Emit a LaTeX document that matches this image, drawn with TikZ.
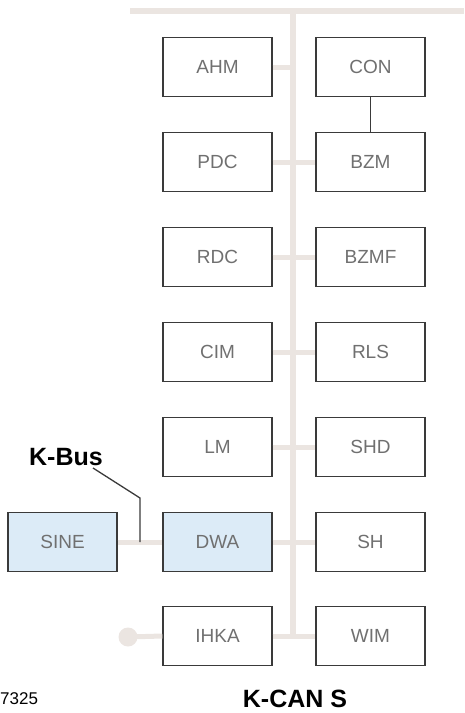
\documentclass[tikz,border=0pt]{standalone}
\usepackage{fontspec}
\setmainfont{Liberation Sans}
\definecolor{busline}{HTML}{EBE5E1}
\definecolor{ecufill}{HTML}{DCEBF7}
\definecolor{ecuedge}{HTML}{3A3A3A}
\definecolor{ecutext}{HTML}{707070}
\begin{document}
\begin{tikzpicture}[x=1pt,y=-1pt,
  ecu/.style={draw=ecuedge,line width=1.4pt,fill=white,minimum width=109pt,
    minimum height=59pt,inner sep=0pt,text=ecutext,font=\fontsize{19}{19}\selectfont},
  kbusecu/.style={ecu,fill=ecufill},
  bus/.style={draw=busline,line width=5.5pt},
  stub/.style={draw=busline,line width=5pt},
  wire/.style={draw=ecuedge,line width=1.3pt},
  heading/.style={font=\bfseries\fontsize{25}{25}\selectfont,text=black,inner sep=0pt}]
\useasboundingbox (0,0) rectangle (464,713);

% K-CAN S backbone
\coordinate (topL) at (130,11);
\coordinate (topR) at (464,11);
\coordinate (busTop) at (293,11);
\coordinate (busBot) at (293,637);
\draw[bus] (topL) -- (topR);
\draw[bus] (busTop) -- (busBot);

% control units
\node[ecu] (AHM)  at (217.5,67)  {AHM};
\node[ecu] (CON)  at (370.5,67)  {CON};
\node[ecu] (PDC)  at (217.5,162) {PDC};
\node[ecu] (BZM)  at (370.5,162) {BZM};
\node[ecu] (RDC)  at (217.5,257) {RDC};
\node[ecu] (BZMF) at (370.5,257) {BZMF};
\node[ecu] (CIM)  at (217.5,352) {CIM};
\node[ecu] (RLS)  at (370.5,352) {RLS};
\node[ecu] (LM)   at (217.5,447) {LM};
\node[ecu] (SHD)  at (370.5,447) {SHD};
\node[kbusecu] (DWA)  at (217.5,542) {DWA};
\node[ecu] (SH)   at (370.5,542) {SH};
\node[ecu] (IHKA) at (217.5,636) {IHKA};
\node[ecu] (WIM)  at (370.5,636) {WIM};
\node[kbusecu] (SINE) at (62.5,542) {SINE};

% taps onto the backbone
\foreach \l/\r in {PDC/BZM,RDC/BZMF,CIM/RLS,LM/SHD,DWA/SH,IHKA/WIM}{
  \draw[stub] (\l.east) -- (\r.west);
}
\draw[stub] (AHM.east) -- (AHM.east -| busTop);

% bus terminator at the left end of the IHKA line
\coordinate (term) at (128,637);
\draw[stub] (term) -- (IHKA.west);
\fill[busline] (term) circle (9.5pt);

% K-Bus link between SINE and DWA
\draw[stub] (SINE.east) -- (DWA.west);
\coordinate (kbTap) at (140,542);
\coordinate (kbBend) at (140,498);
\coordinate (kbEnd) at (93,468);
\draw[wire] (kbTap) -- (kbBend) -- (kbEnd);
\node[heading,anchor=south] (KBus) at (66,466) {K-Bus};

% CON attached to BZM
\draw[wire] (CON.south) -- (BZM.north);

% captions
\node[heading,anchor=base] (KCAN) at (295,707) {K-CAN S};
\node[anchor=base west,inner sep=0pt,font=\fontsize{17}{17}\selectfont] (fig) at (0,704) {7325};
\end{tikzpicture}
\end{document}
